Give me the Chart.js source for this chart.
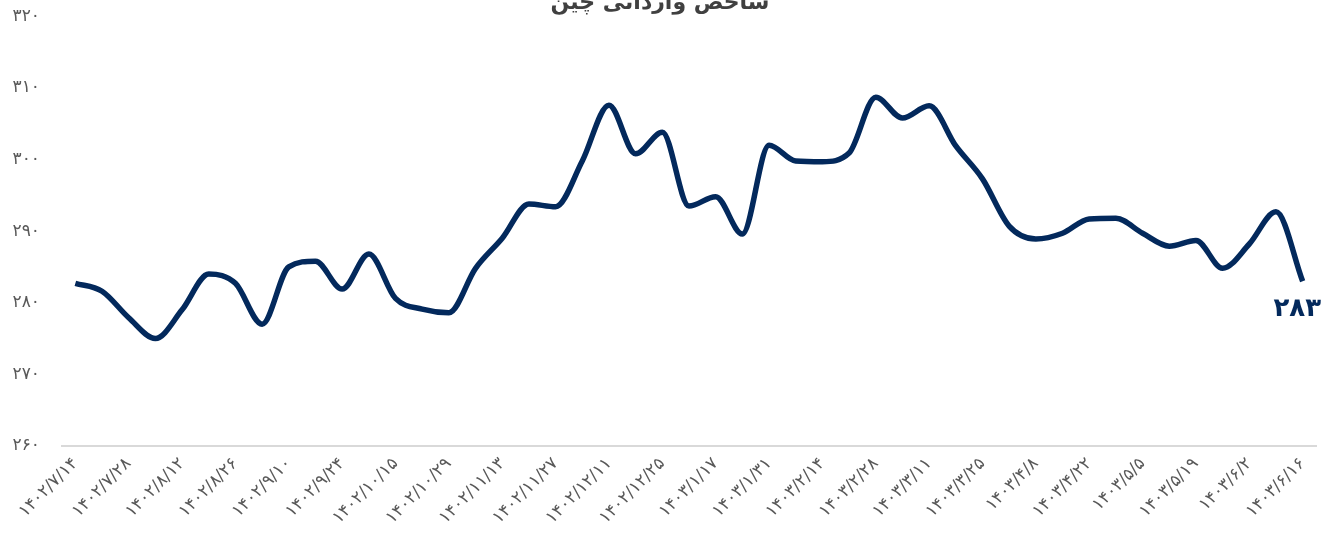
<!DOCTYPE html>
<html>
<head>
<meta charset="utf-8">
<script src="https://cdn.jsdelivr.net/npm/chart.js@4"></script>
<style>
body { margin:0; background:#fff; overflow:hidden; }
#wrap { position:absolute; left:0; top:-12px; width:1324px; height:552px; }
</style>
</head>
<body>
<div id="wrap"><canvas id="myChart"></canvas></div>
<script>
// تاریخ ها (هفتگی)
const dates = [
 '1402/7/14','1402/7/21','1402/7/28','1402/8/5','1402/8/12','1402/8/19','1402/8/26','1402/9/3',
 '1402/9/10','1402/9/17','1402/9/24','1402/10/8','1402/10/15','1402/10/22','1402/10/29','1402/11/6',
 '1402/11/13','1402/11/20','1402/11/27','1402/12/4','1402/12/11','1402/12/18','1402/12/25','1403/1/10',
 '1403/1/17','1403/1/24','1403/1/31','1403/2/7','1403/2/14','1403/2/21','1403/2/28','1403/3/4',
 '1403/3/11','1403/3/18','1403/3/25','1403/4/1','1403/4/8','1403/4/15','1403/4/22','1403/4/29',
 '1403/5/5','1403/5/12','1403/5/19','1403/5/26','1403/6/2','1403/6/9','1403/6/16'
];
const values = [
 282.7, 281.6, 277.9, 275.0, 279.0, 284.0, 282.7, 277.0,
 285.0, 285.8, 281.9, 286.8, 280.6, 279.1, 278.6, 284.8,
 289.0, 293.8, 293.4, 299.8, 307.6, 300.8, 303.8, 293.5,
 294.8, 289.6, 302.0, 299.8, 299.7, 300.9, 308.7, 305.8,
 307.5, 301.9, 297.3, 290.7, 288.9, 289.7, 291.7, 291.8,
 289.7, 287.9, 288.7, 284.8, 288.2, 292.7, 283.0
];
const yTicks = [260, 270, 280, 290, 300, 310, 320];
const title = 'شاخص وارداتی چین';

const navy = '#03295c';
const gray = '#595959';

function toFa(s)
{
    return String(s).replace(/[0-9]/g, function(d) { return '۰۱۲۳۴۵۶۷۸۹'[d]; });
}

// برچسب آخرین نقطه
const lastLabel = {
    id: 'lastLabel',
    afterDatasetsDraw: function(chart) {
        var meta = chart.getDatasetMeta(0);
        var pt = meta.data[meta.data.length - 1];
        var ctx = chart.ctx;
        ctx.save();
        ctx.font = 'bold 26px "DejaVu Sans"';
        ctx.fillStyle = navy;
        ctx.textAlign = 'right';
        ctx.textBaseline = 'middle';
        ctx.fillText(toFa(Math.round(values[values.length - 1])), chart.width - 3, pt.y + 28);
        ctx.restore();
    }
};

var ctx = document.getElementById('myChart').getContext('2d');
var myChart = new Chart(ctx, {
    type: 'line',
    data: {
        labels: dates,
        datasets: [{
            data: values,
            borderColor: navy,
            borderWidth: 5.5,
            pointRadius: 0,
            tension: 0.4,
            cubicInterpolationMode: 'monotone',
            fill: false
        }]
    },
    options: {
        responsive: true,
        maintainAspectRatio: false,
        animation: false,
        layout: { padding: { left: 4, right: 8, bottom: 4 } },
        plugins: {
            legend: { display: false },
            tooltip: { enabled: false },
            title: {
                display: true,
                text: title,
                color: '#404040',
                font: { family: 'DejaVu Sans', size: 22, weight: 'bold' },
                padding: { top: 2, bottom: 0 }
            }
        },
        scales: {
            x: {
                offset: true,
                grid: { display: false, drawTicks: false },
                border: { display: true, color: '#d9d9d9', width: 2 },
                afterFit: function(axis) {
                    axis.paddingLeft = 0;
                    axis.paddingRight = 0;
                },
                ticks: {
                    autoSkip: false,
                    minRotation: 45,
                    maxRotation: 45,
                    padding: 8,
                    color: gray,
                    font: { family: 'DejaVu Sans', size: 17 },
                    callback: function(val, idx) {
                        return idx % 2 === 0 ? toFa(this.getLabelForValue(val)) : '';
                    }
                }
            },
            y: {
                min: yTicks[0],
                max: yTicks[yTicks.length - 1],
                grid: { display: false, drawTicks: false },
                border: { display: false },
                afterBuildTicks: function(axis) {
                    axis.ticks = yTicks.map(function(v) { return { value: v }; });
                },
                afterFit: function(axis) {
                    axis.width = 58;
                    axis.paddingTop = 0;
                    axis.paddingBottom = 0;
                },
                ticks: {
                    padding: 22,
                    color: gray,
                    font: { family: 'DejaVu Sans', size: 17 },
                    callback: function(v) { return toFa(v); }
                }
            }
        }
    },
    plugins: [lastLabel]
});
</script>
</body>
</html>
